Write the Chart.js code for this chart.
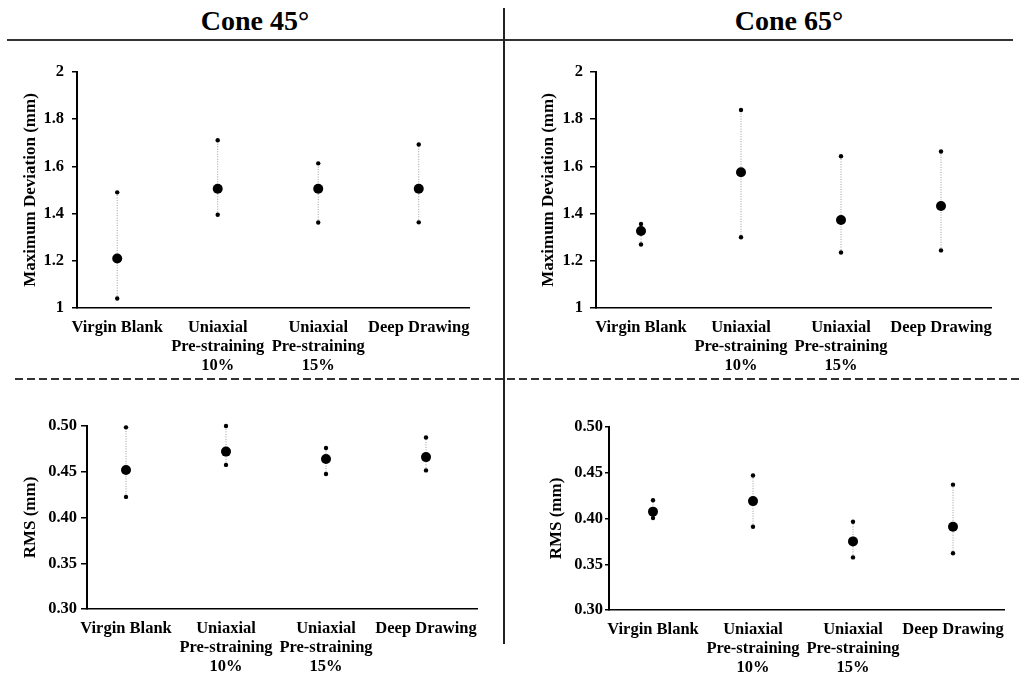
<!DOCTYPE html>
<html>
<head>
<meta charset="utf-8">
<script src="https://cdn.jsdelivr.net/npm/chart.js@4.4.1/dist/chart.umd.min.js"></script>
<style>
  body { margin: 0; background: #fff; width: 1019px; height: 677px; position: relative; overflow: hidden; }
  .title { position: absolute; top: 4px; width: 300px; text-align: center; font: bold 28px 'Liberation Serif', 'Times New Roman', serif; line-height: 34px; color: #000; }
  .hline { position: absolute; left: 7px; top: 39px; width: 1006px; height: 2px; background: #333; }
  .vline { position: absolute; left: 503px; top: 8px; width: 2px; height: 636px; background: #222; }
  .dash { position: absolute; left: 15px; top: 378px; width: 1004px; height: 2px;
          background: repeating-linear-gradient(to right, #333 0 8px, transparent 8px 12px); }
  canvas { position: absolute; }
</style>
</head>
<body>
<div class="title" style="left:105px">Cone 45°</div>
<div class="title" style="left:639px">Cone 65°</div>
<div class="hline"></div>
<div class="vline"></div>
<div class="dash"></div>

<canvas id="c1" width="500" height="330" style="left:0;top:50px"></canvas>
<canvas id="c2" width="509" height="330" style="left:510px;top:50px"></canvas>
<canvas id="c3" width="500" height="287" style="left:0;top:390px"></canvas>
<canvas id="c4" width="509" height="287" style="left:510px;top:390px"></canvas>

<script>
// categories (x tick labels)
var categories = ['Virgin Blank', ['Uniaxial', 'Pre-straining', '10%'], ['Uniaxial', 'Pre-straining', '15%'], 'Deep Drawing'];

// y tick values
var maxDevTicks = [1, 1.2, 1.4, 1.6, 1.8, 2];
var rmsTicks = [0.30, 0.35, 0.40, 0.45, 0.50];

// Maximum deviation, cone 45
var maxDev45Mean = [1.21, 1.505, 1.505, 1.505];
var maxDev45Low = [1.04, 1.395, 1.362, 1.363];
var maxDev45High = [1.49, 1.711, 1.613, 1.693];

// Maximum deviation, cone 65
var maxDev65Mean = [1.326, 1.575, 1.373, 1.432];
var maxDev65Low = [1.269, 1.300, 1.235, 1.244];
var maxDev65High = [1.356, 1.839, 1.643, 1.663];

// RMS, cone 45
var rms45Mean = [0.452, 0.472, 0.464, 0.466];
var rms45Low = [0.4225, 0.4575, 0.4475, 0.4515];
var rms45High = [0.4985, 0.500, 0.476, 0.4875];

// RMS, cone 65
var rms65Mean = [0.4075, 0.419, 0.375, 0.391];
var rms65Low = [0.4005, 0.391, 0.3575, 0.362];
var rms65High = [0.420, 0.447, 0.3965, 0.437];

var serif = "'Liberation Serif', 'Times New Roman', serif";

function points(values) {
    return values.map(function(v, i) { return { x: i + 1, y: v }; });
}

function whiskers(low, high) {
    var pts = [];
    low.forEach(function(v, i) {
        pts.push({ x: i + 1, y: v });
        pts.push({ x: i + 1, y: high[i] });
        pts.push({ x: i + 1, y: null });
    });
    return pts;
}

function makePanel(id, p) {
    var ctx = document.getElementById(id).getContext('2d');
    return new Chart(ctx, {
        type: 'scatter',
        data: {
            datasets: [
                { data: points(p.mean), pointRadius: 5, pointBackgroundColor: '#000', pointBorderWidth: 0, showLine: false, clip: false },
                { data: points(p.low).concat(points(p.high)), pointRadius: 2.2, pointBackgroundColor: '#000', pointBorderWidth: 0, showLine: false, clip: false },
                { data: whiskers(p.low, p.high), showLine: true, spanGaps: false, borderColor: '#9a9a9a', borderWidth: 1,
                  borderDash: [1, 1.5], pointRadius: 0, clip: false }
            ]
        },
        options: {
            responsive: false,
            animation: false,
            layout: { padding: { left: 0, top: p.padTop, right: p.padRight, bottom: 0 } },
            plugins: { legend: { display: false }, tooltip: { enabled: false } },
            scales: {
                x: {
                    type: 'linear',
                    min: p.xMin,
                    max: p.xMax,
                    afterBuildTicks: function(scale) {
                        scale.ticks = categories.map(function(c, i) { return { value: i + 1 }; });
                    },
                    afterFit: function(scale) { scale.height = p.xHeight; },
                    grid: { display: false, drawTicks: false },
                    border: { display: true, color: '#000', width: 1.5 },
                    ticks: {
                        autoSkip: false, maxRotation: 0, minRotation: 0, padding: 10, color: '#000',
                        font: { family: serif, size: 16.5, weight: 'bold', lineHeight: 1.16 },
                        callback: function(v) { return categories[v - 1]; }
                    }
                },
                y: {
                    min: p.ticks[0],
                    max: p.ticks[p.ticks.length - 1],
                    afterBuildTicks: function(scale) {
                        scale.ticks = p.ticks.map(function(v) { return { value: v }; });
                    },
                    afterFit: function(scale) { scale.width = p.yWidth; },
                    grid: { drawOnChartArea: false, drawTicks: true, tickLength: p.tickLen, color: '#000', lineWidth: 1.5 },
                    border: { display: true, color: '#000', width: 2 },
                    ticks: {
                        padding: p.tickPad, color: '#000',
                        font: { family: serif, size: 16.5, weight: 'bold' },
                        callback: function(v) { return v.toFixed(p.decimals).replace(/\.0$/, ''); }
                    },
                    title: {
                        display: true, text: p.yTitle, color: '#000',
                        font: { family: serif, size: 17, weight: 'bold', lineHeight: 1.2 },
                        padding: { top: p.titlePad, bottom: 0 }
                    }
                }
            }
        }
    });
}

makePanel('c1', {
    mean: maxDev45Mean, low: maxDev45Low, high: maxDev45High, ticks: maxDevTicks, decimals: 1,
    yTitle: 'Maximum Deviation (mm)', padTop: 22, padRight: 31, yWidth: 77, xHeight: 72,
    xMin: 0.6, xMax: 4.5, tickLen: 5, tickPad: 8, titlePad: 20
});
makePanel('c2', {
    mean: maxDev65Mean, low: maxDev65Low, high: maxDev65High, ticks: maxDevTicks, decimals: 1,
    yTitle: 'Maximum Deviation (mm)', padTop: 22, padRight: 28, yWidth: 86, xHeight: 72,
    xMin: 0.55, xMax: 4.5, tickLen: 6, tickPad: 7, titlePad: 28
});
makePanel('c3', {
    mean: rms45Mean, low: rms45Low, high: rms45High, ticks: rmsTicks, decimals: 2,
    yTitle: 'RMS (mm)', padTop: 36, padRight: 23, yWidth: 87, xHeight: 68,
    xMin: 0.61, xMax: 4.51, tickLen: 6, tickPad: 4, titlePad: 20
});
makePanel('c4', {
    mean: rms65Mean, low: rms65Low, high: rms65High, ticks: rmsTicks, decimals: 2,
    yTitle: 'RMS (mm)', padTop: 37, padRight: 15, yWidth: 99, xHeight: 67,
    xMin: 0.56, xMax: 4.51, tickLen: 4, tickPad: 2, titlePad: 36
});
</script>
</body>
</html>
